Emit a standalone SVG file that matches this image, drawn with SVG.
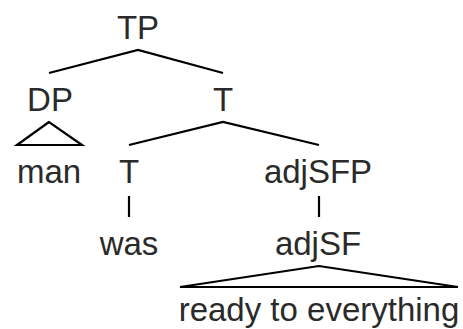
<svg xmlns="http://www.w3.org/2000/svg" width="463" height="329" viewBox="0 0 463 329">
<style>
text{font-family:"Liberation Sans",Arial,sans-serif;font-size:33px;fill:#2a2a2a;text-anchor:middle}
.e{stroke:#000;stroke-width:2.2;fill:none;stroke-linecap:butt}
</style>
<rect width="463" height="329" fill="#fff"/>
<g id="connectors">
<polyline class="e" points="49,73 138,50 223,73"/>
<polygon class="e" points="49,122 17,145 82,145"/>
<polyline class="e" points="129,145 223,122 319,145"/>
<line class="e" x1="129" y1="196" x2="129" y2="217"/>
<line class="e" x1="319" y1="196" x2="319" y2="217"/>
<polygon class="e" points="319,266 180,287 458,287"/>
</g>
<g id="n-TP"><text x="138" y="39">TP</text></g>
<g id="n-DP"><text x="50" y="111">DP</text></g>
<g id="n-T1"><text x="223" y="111">T</text></g>
<g id="n-man"><text x="49" y="183">man</text></g>
<g id="n-T2"><text x="129" y="183">T</text></g>
<g id="n-adjSFP"><text x="318" y="183">adjSFP</text></g>
<g id="n-was"><text x="129" y="255">was</text></g>
<g id="n-adjSF"><text x="318" y="255">adjSF</text></g>
<g id="n-ready"><text x="319" y="321">ready to everything</text></g>
</svg>
